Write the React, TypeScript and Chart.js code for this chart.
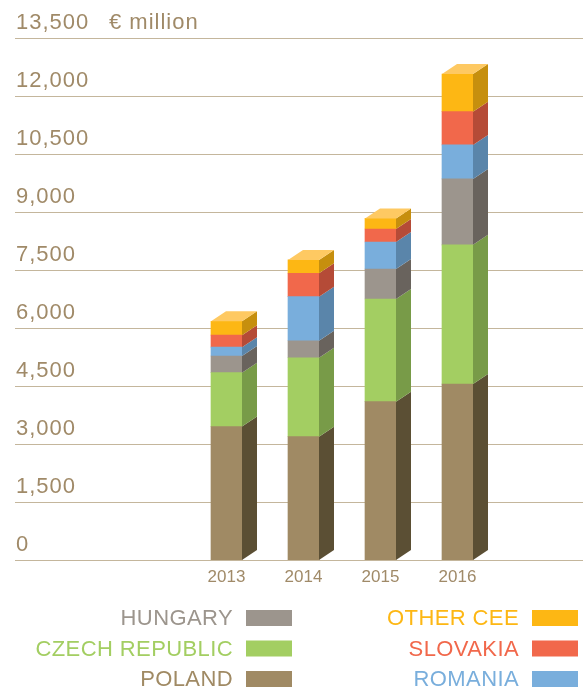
import React, { useEffect, useRef } from "react";
import { Chart, registerables } from "chart.js";

Chart.register(...registerables);

// ---- Data ----
const years = ["2013", "2014", "2015", "2016"];
const poland = [3450, 3190, 4095, 4550];
const czechRepublic = [1395, 2040, 2655, 3600];
const hungary = [430, 440, 775, 1705];
const romania = [230, 1140, 700, 880];
const slovakia = [310, 605, 335, 860];
const otherCee = [360, 345, 275, 975];
const yTickValues = [0, 1500, 3000, 4500, 6000, 7500, 9000, 10500, 12000, 13500];
const unitLabel = "€ million";

const seriesLabels = ["POLAND", "CZECH REPUBLIC", "HUNGARY", "ROMANIA", "SLOVAKIA", "OTHER CEE"];
const seriesValues = [poland, czechRepublic, hungary, romania, slovakia, otherCee];
const frontColors = ["#A08A64", "#A3CE62", "#9C958D", "#79AEDC", "#F1684B", "#FDB714"];
const sideColors = ["#5B4F34", "#789B48", "#69635D", "#5A85AA", "#B54B37", "#C68F0E"];
const topColor = "#FEC962";
// legend layout: left column then right column (indices into series)
const legendLeft = [2, 1, 0];
const legendRight = [5, 4, 3];

const TEXT = "#A08A68";
const GRID = "#C4B69C";
const FONT = '"Liberation Sans", Arial, sans-serif';
const DX = 15;
const DY = -10;

const customPlugin = {
  id: "custom3d",
  beforeDatasetsDraw(chart: any) {
    const ctx = chart.ctx as CanvasRenderingContext2D;
    const y = chart.scales.y;
    ctx.save();
    ctx.strokeStyle = GRID;
    ctx.lineWidth = 1;
    ctx.fillStyle = TEXT;
    ctx.font = `22px ${FONT}`;
    (ctx as any).letterSpacing = "1px";
    ctx.textAlign = "left";
    ctx.textBaseline = "alphabetic";
    yTickValues.forEach((v, i) => {
      const py = Math.round(y.getPixelForValue(v)) + 0.5;
      ctx.beginPath();
      ctx.moveTo(15, py);
      ctx.lineTo(chart.width, py);
      ctx.stroke();
      ctx.fillText(v.toLocaleString("en-US"), 16, py - 9.5);
      if (i === yTickValues.length - 1) {
        ctx.fillText(unitLabel, 109, py - 9.5);
      }
    });
    ctx.restore();
  },
  afterDatasetsDraw(chart: any) {
    const ctx = chart.ctx as CanvasRenderingContext2D;
    ctx.save();
    const n = chart.data.datasets.length;
    for (let d = 0; d < n; d++) {
      const meta = chart.getDatasetMeta(d);
      meta.data.forEach((el: any) => {
        const p = el.getProps(["x", "y", "base", "width"], true);
        const left = p.x - p.width / 2;
        const right = p.x + p.width / 2;
        const top = Math.min(p.y, p.base);
        const bottom = Math.max(p.y, p.base);
        // side face
        ctx.fillStyle = sideColors[d];
        ctx.beginPath();
        ctx.moveTo(right, top);
        ctx.lineTo(right + DX, top + DY);
        ctx.lineTo(right + DX, bottom + DY);
        ctx.lineTo(right, bottom);
        ctx.closePath();
        ctx.fill();
        if (d === n - 1) {
          ctx.fillStyle = topColor;
          ctx.beginPath();
          ctx.moveTo(left, top);
          ctx.lineTo(left + DX, top + DY);
          ctx.lineTo(right + DX, top + DY);
          ctx.lineTo(right, top);
          ctx.closePath();
          ctx.fill();
        }
      });
    }
    // x labels
    const x = chart.scales.x;
    const y = chart.scales.y;
    const base = y.getPixelForValue(0);
    ctx.fillStyle = TEXT;
    ctx.font = `17px ${FONT}`;
    (ctx as any).letterSpacing = "0px";
    ctx.textAlign = "center";
    ctx.textBaseline = "alphabetic";
    years.forEach((yr, i) => {
      ctx.fillText(yr, x.getPixelForValue(i), base + 22);
    });
    // legend
    ctx.font = `22px ${FONT}`;
    (ctx as any).letterSpacing = "0.4px";
    ctx.textAlign = "right";
    ctx.textBaseline = "middle";
    const rowY = [618, 648.5, 679];
    const cols = [
      { items: legendLeft, textRight: 233, sw: 246 },
      { items: legendRight, textRight: 519, sw: 532 },
    ];
    cols.forEach((c) => {
      c.items.forEach((idx, r) => {
        const ds = chart.data.datasets[idx];
        ctx.fillStyle = frontColors[idx];
        ctx.fillText(ds.label, c.textRight, rowY[r] + 1);
        ctx.fillRect(c.sw, rowY[r] - 8, 46, 16);
      });
    });
    ctx.restore();
  },
};

export default function App() {
  const ref = useRef<HTMLCanvasElement | null>(null);
  useEffect(() => {
    if (!ref.current) return;
    const chart = new Chart(ref.current, {
      type: "bar",
      data: {
        labels: years,
        datasets: seriesLabels.map((label, i) => ({
          label,
          data: seriesValues[i],
          backgroundColor: frontColors[i],
          borderWidth: 0,
          barThickness: 31,
        })),
      },
      options: {
        animation: false,
        responsive: false,
        devicePixelRatio: 1,
        layout: { padding: { left: 188, right: 87, top: 38, bottom: 131 } },
        plugins: { legend: { display: false }, tooltip: { enabled: false } },
        scales: {
          x: { stacked: true, display: false, offset: true },
          y: { stacked: true, display: false, min: 0, max: 13500, ticks: { stepSize: 1500 } },
        },
      },
      plugins: [customPlugin],
    });
    return () => chart.destroy();
  }, []);
  return (
    <div style={{ position: "absolute", left: 0, top: 0, width: 583, height: 691, background: "#fff" }}>
      <canvas ref={ref} width={583} height={691} style={{ display: "block" }} />
    </div>
  );
}
